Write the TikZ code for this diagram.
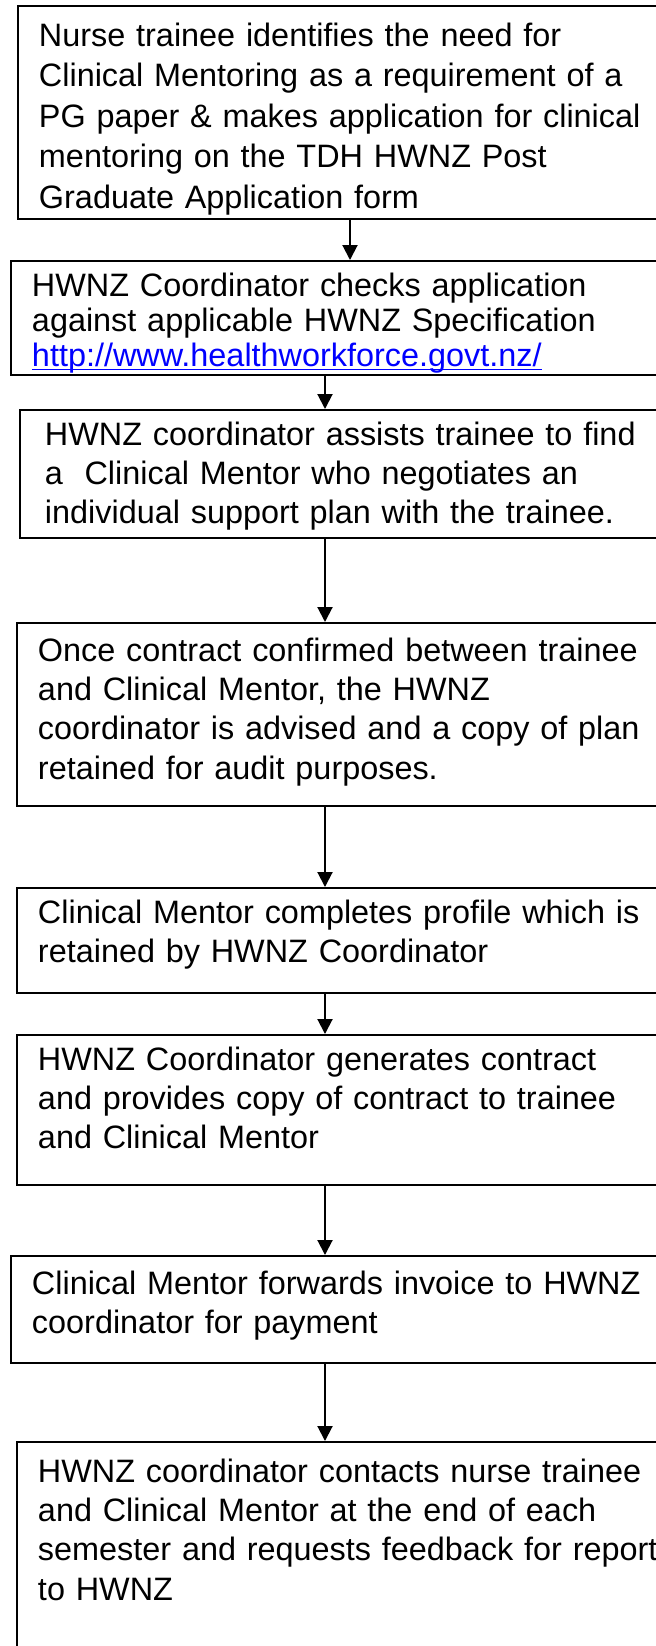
\documentclass[tikz,border=0pt]{standalone}
\usepackage{fontspec}
\setmainfont{Liberation Sans}
\usetikzlibrary{arrows.meta}
\definecolor{linkblue}{RGB}{0,0,255}
\newcommand\urlunder[1]{\leavevmode\setbox0\hbox{#1}\rlap{\rule[-2pt]{\wd0}{0.6pt}}\box0}

\begin{document}
\begin{tikzpicture}[x=0.5pt,y=-0.5pt,
  stepbox/.style={rectangle, draw=black, line width=1pt, anchor=north west,
    inner xsep=10.5pt, inner ysep=0pt, text width=310pt, align=left,
    text height=19pt, font=\fontsize{16.2}{19.7}\selectfont},
  flow/.style={-{Triangle[width=7.5pt,length=7.5pt]}, line width=1pt}]
  \clip (0,0) rectangle (656,1646);
  \coordinate (firstx) at (350,0);
  \coordinate (restx) at (325,0);

  \node[stepbox, text height=20pt, text depth=86.5pt,
    font=\fontsize{16.2}{20.3}\selectfont] (apply) at (17,5) {
    Nurse trainee identifies the need for\\
    Clinical Mentoring as a requirement of a\\
    PG paper \& makes application for clinical\\
    mentoring on the TDH HWNZ Post\\
    Graduate Application form};
  \node[stepbox, text height=17.5pt, text depth=39.5pt,
    font=\fontsize{16.2}{17.5}\selectfont] (check) at (10,260) {
    HWNZ Coordinator checks application\\
    against applicable HWNZ Specification\\
    {\color{linkblue}\urlunder{http://www.healthworkforce.govt.nz/}}};
  \node[stepbox, text height=17.5pt, text depth=46.5pt, inner xsep=12.5pt] (assist) at (19,409) {
    HWNZ coordinator assists trainee to find\\
    a\ \ Clinical Mentor who negotiates an\\
    individual support plan with the trainee.};
  \node[stepbox, text depth=72.5pt] (confirm) at (16,622) {
    Once contract confirmed between trainee\\
    and Clinical Mentor, the HWNZ\\
    coordinator is advised and a copy of plan\\
    retained for audit purposes.};
  \node[stepbox, text height=17.5pt, text depth=35pt] (profile) at (16,887) {
    Clinical Mentor completes profile which is\\
    retained by HWNZ Coordinator};
  \node[stepbox, text height=17.5pt, text depth=57.5pt] (contract) at (16,1034) {
    HWNZ Coordinator generates contract\\
    and provides copy of contract to trainee\\
    and Clinical Mentor};
  \node[stepbox, text depth=34.5pt] (invoice) at (10,1255) {
    Clinical Mentor forwards invoice to HWNZ\\
    coordinator for payment};
  \node[stepbox, text height=20pt, text depth=110pt] (feedback) at (16,1441) {
    HWNZ coordinator contacts nurse trainee\\
    and Clinical Mentor at the end of each\\
    semester and requests feedback for report\\
    to HWNZ};

  % connectors
  \draw[flow] (apply.south -| firstx) -- (check.north -| firstx);
  \draw[flow] (check.south -| restx) -- (assist.north -| restx);
  \draw[flow] (assist.south -| restx) -- (confirm.north -| restx);
  \draw[flow] (confirm.south -| restx) -- (profile.north -| restx);
  \draw[flow] (profile.south -| restx) -- (contract.north -| restx);
  \draw[flow] (contract.south -| restx) -- (invoice.north -| restx);
  \draw[flow] (invoice.south -| restx) -- (feedback.north -| restx);
\end{tikzpicture}
\end{document}
